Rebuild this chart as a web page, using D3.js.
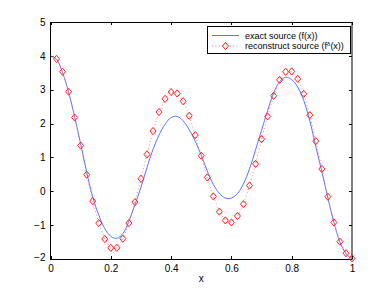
<!DOCTYPE html>
<html><head><meta charset="utf-8">
<script src="https://cdn.jsdelivr.net/npm/d3@7"></script>
<style>body{margin:0;background:#fff}svg{display:block}text{font-family:"Liberation Sans",Arial,sans-serif;font-size:10px;fill:#000}</style>
</head><body>
<script>
// exact source f(x) sampled
const exactX = [0,0.02,0.04,0.06,0.08,0.10,0.12,0.14,0.16,0.18,0.20,0.22,0.24,0.26,0.28,0.30,0.32,0.34,0.36,0.38,0.40,0.42,0.44,0.46,0.48,0.50,0.52,0.54,0.56,0.58,0.60,0.62,0.64,0.66,0.68,0.70,0.72,0.74,0.76,0.78,0.80,0.82,0.84,0.86,0.88,0.90,0.92,0.94,0.96,0.98,1.00];
const exactY = [4.0,3.9,3.5,2.93,2.2,1.4,0.57,-0.17,-0.7,-1.1,-1.33,-1.39,-1.25,-0.88,-0.4,0.12,0.7,1.24,1.66,1.98,2.18,2.21,2.08,1.82,1.48,1.06,0.6,0.2,-0.06,-0.2,-0.2,-0.07,0.22,0.66,1.22,1.8,2.38,2.9,3.24,3.37,3.3,3.08,2.68,2.08,1.32,0.58,-0.2,-0.92,-1.5,-1.84,-2.0];
// reconstructed source f^delta(x)
const reconX = [0.02,0.04,0.06,0.08,0.10,0.12,0.14,0.16,0.18,0.20,0.22,0.24,0.26,0.28,0.30,0.32,0.34,0.36,0.38,0.40,0.42,0.44,0.46,0.48,0.50,0.52,0.54,0.56,0.58,0.60,0.62,0.64,0.66,0.68,0.70,0.72,0.74,0.76,0.78,0.80,0.82,0.84,0.86,0.88,0.90,0.92,0.94,0.96,0.98,1.00];
const reconY = [3.91,3.53,2.94,2.18,1.35,0.49,-0.29,-0.94,-1.41,-1.67,-1.67,-1.40,-0.94,-0.32,0.37,1.09,1.78,2.34,2.73,2.93,2.89,2.66,2.23,1.66,1.05,0.41,-0.15,-0.60,-0.86,-0.92,-0.73,-0.38,0.17,0.81,1.54,2.21,2.82,3.29,3.53,3.54,3.32,2.88,2.25,1.48,0.66,-0.16,-0.92,-1.49,-1.83,-1.98];
const xTicks = [0,0.2,0.4,0.6,0.8,1];
const yTicks = [-2,-1,0,1,2,3,4,5];
const legendLabels = ["exact source (f(x))","reconstruct source (f","δ","(x))"];

const W=388,H=292, L=50.5, R=352, T=22, B=259;
const svg=d3.select("body").append("svg").attr("width",W).attr("height",H);
const x=d3.scaleLinear().domain([0,1]).range([L,R]);
const y=d3.scaleLinear().domain([-2,5]).range([B,T]);
const fmt=d=>d<0?"\u2212"+Math.abs(d):String(d);

const g=svg.append("g");
g.append("rect").attr("x",L).attr("y",T+0.5).attr("width",R-L).attr("height",B-T).attr("fill","none").attr("stroke","#000").attr("stroke-width",1);

const bottom=d3.axisBottom(x).tickValues(xTicks).tickSize(0).tickPadding(6).tickFormat(d3.format("~g"));
const ga=g.append("g").attr("transform",`translate(0,${B})`).call(bottom);
ga.select(".domain").remove();
ga.selectAll("text").style("font-family","Liberation Sans,Arial").style("font-size","10px");
const left=d3.axisLeft(y).tickValues(yTicks).tickSize(0).tickPadding(5).tickFormat(fmt);
const gl=g.append("g").attr("transform",`translate(${L},0)`).call(left);
gl.select(".domain").remove();
gl.selectAll("text").style("font-family","Liberation Sans,Arial").style("font-size","10px");
gl.selectAll("text").filter(d=>d===-2).attr("dy","0.1em");

xTicks.forEach(t=>{
  g.append("line").attr("x1",Math.round(x(t))+0.5).attr("x2",Math.round(x(t))+0.5).attr("y1",B).attr("y2",B-3).attr("stroke","#000");
  g.append("line").attr("x1",Math.round(x(t))+0.5).attr("x2",Math.round(x(t))+0.5).attr("y1",T).attr("y2",T+3).attr("stroke","#000");
});
yTicks.forEach(t=>{
  g.append("line").attr("x1",L).attr("x2",L+3).attr("y1",Math.round(y(t))+0.5).attr("y2",Math.round(y(t))+0.5).attr("stroke","#000");
  g.append("line").attr("x1",R-3).attr("x2",R).attr("y1",Math.round(y(t))+0.5).attr("y2",Math.round(y(t))+0.5).attr("stroke","#000");
});

svg.append("text").attr("x",(L+R)/2).attr("y",282).attr("text-anchor","middle").text("x");

const line=d3.line().x(d=>x(d[0])).y(d=>y(d[1])).curve(d3.curveCatmullRom);
svg.append("path").datum(exactX.map((v,i)=>[v,exactY[i]])).attr("d",line).attr("fill","none").attr("stroke","#5a74ff").attr("stroke-width",1);
const rdat=reconX.map((v,i)=>[v,reconY[i]]);
svg.append("path").datum(rdat).attr("d",d3.line().x(d=>x(d[0])).y(d=>y(d[1]))).attr("fill","none").attr("stroke","#ff8080").attr("stroke-width",1).attr("stroke-dasharray","1,2.5");
const dia=(cx,cy)=>`M${cx},${cy-3.6}L${cx+3},${cy}L${cx},${cy+3.6}L${cx-3},${cy}Z`;
svg.append("g").selectAll("path").data(rdat).join("path").attr("d",d=>dia(x(d[0]),y(d[1]))).attr("fill","none").attr("stroke","#ff2020").attr("stroke-width",1);

const lg=svg.append("g");
lg.append("rect").attr("x",207.5).attr("y",26.5).attr("width",143).attr("height",27).attr("fill","#fff").attr("stroke","#000");
lg.append("line").attr("x1",212).attr("x2",239).attr("y1",35.5).attr("y2",35.5).attr("stroke","#5a74ff");
lg.append("text").attr("x",245).attr("y",38.5).style("font-size","9px").text(legendLabels[0]);
lg.append("line").attr("x1",212).attr("x2",239).attr("y1",46).attr("y2",46).attr("stroke","#ff8080").attr("stroke-dasharray","1,2.5");
lg.append("path").attr("d",dia(225.5,46)).attr("fill","none").attr("stroke","#ff2020");
const t2=lg.append("text").attr("x",245).attr("y",49).style("font-size","9px");
t2.append("tspan").text(legendLabels[1]);
t2.append("tspan").attr("dy",-3.5).style("font-size","6px").text(legendLabels[2]);
t2.append("tspan").attr("dy",3.5).text(legendLabels[3]);
</script>
</body></html>
